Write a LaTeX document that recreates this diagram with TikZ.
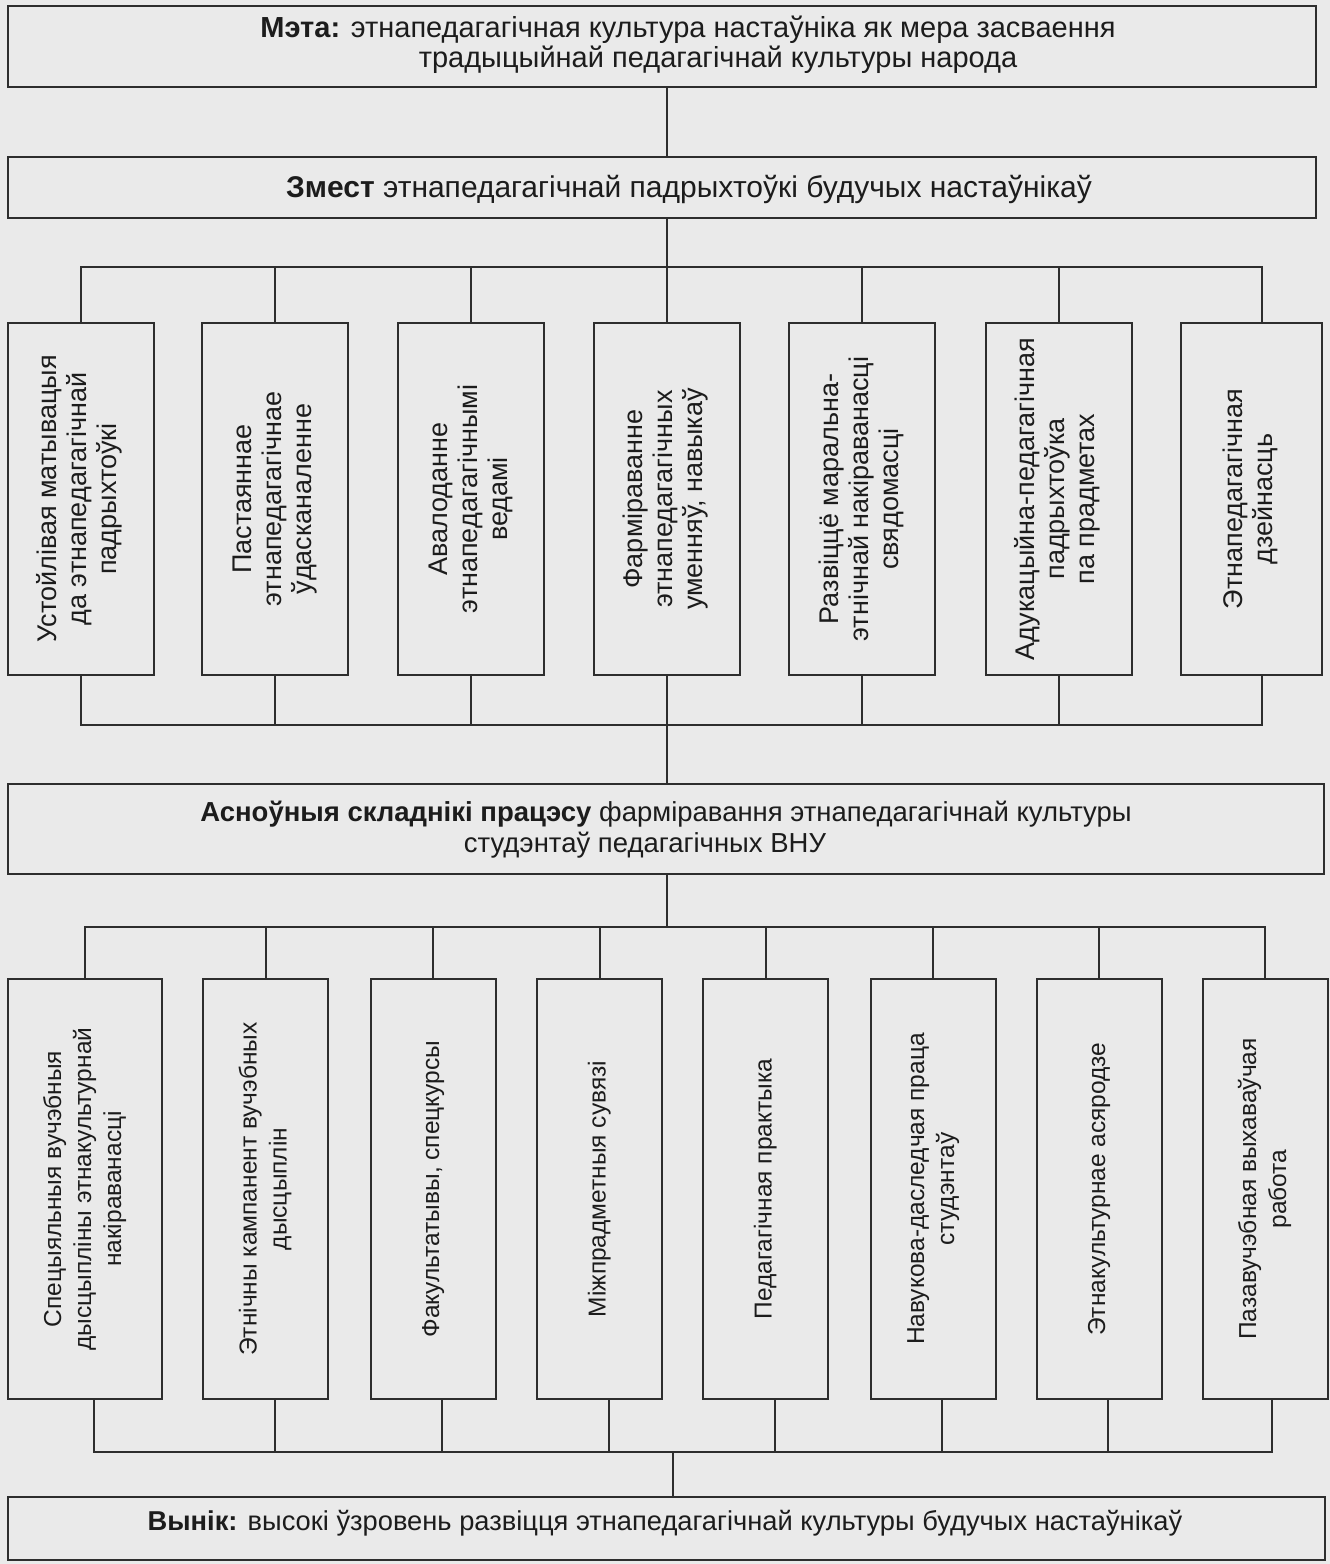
\documentclass[tikz,border=0pt]{standalone}
\usepackage{fontspec}
\setmainfont{Liberation Sans}
\usetikzlibrary{calc}
\definecolor{bgc}{HTML}{EAEAEA}
\definecolor{lnc}{HTML}{2E2E2E}
\definecolor{txc}{HTML}{1C1C1C}
\newcommand\vtxt[1]{\rotatebox{90}{\begin{tabular}{@{}c@{}}#1\end{tabular}}}
\tikzset{
  boxbase/.style={draw=lnc, line width=2pt, inner sep=0pt},
  ubox/.style={boxbase, minimum width=146pt, minimum height=352pt, font=\fontsize{27}{30}\selectfont},
  lbox/.style={boxbase, minimum width=125pt, minimum height=420pt, font=\fontsize{24.5}{30}\selectfont},
  htext/.style={align=center, inner sep=0pt},
  conn/.style={draw=lnc, line width=2pt}
}
\begin{document}
\begin{tikzpicture}[x=1pt,y=-1pt,text=txc]
\fill[bgc] (0,0) rectangle (1330,1564);
\useasboundingbox (0,0) rectangle (1330,1564);

% top boxes
\node[boxbase, minimum width=1308pt, minimum height=81pt] (meta) at (662,46.5) {};
\node[htext, font=\fontsize{29}{30}\selectfont] (metaT) at (688,45) {\textbf{Мэта:} этнапедагагічная культура настаўніка як мера засваення\\\hspace*{60pt}традыцыйнай педагагічнай культуры народа};
\node[boxbase, minimum width=1308pt, minimum height=61pt] (zmest) at (662,187.5) {};
\node[htext, font=\fontsize{30}{30}\selectfont] (zmestT) at (689,189) {\textbf{Змест} этнапедагагічнай падрыхтоўкі будучых настаўнікаў};

% upper vertical boxes
\node[ubox] (up1) at (80.5,499) {\vtxt{Устойлівая матывацыя\\да этнапедагагічнай\\падрыхтоўкі}};
\node[ubox] (up2) at (275,499) {\vtxt{Пастаяннае\\этнапедагагічнае\\ўдасканаленне}};
\node[ubox] (up3) at (471,499) {\vtxt{Авалоданне\\этнапедагагічнымі\\ведамі}};
\node[ubox] (up4) at (666.5,499) {\vtxt{Фарміраванне\\этнапедагагічных\\уменняў, навыкаў}};
\node[ubox] (up5) at (862,499) {\vtxt{Развіццё маральна-\\этнічнай накіраванасці\\свядомасці}};
\node[ubox] (up6) at (1058.5,499) {\vtxt{Адукацыйна-педагагічная\\падрыхтоўка\\па прадметах}};
\node[ubox, minimum width=141pt] (up7) at (1251.5,499) {\vtxt{Этнапедагагічная\\дзейнасць}};

% main components box
\node[boxbase, minimum width=1316pt, minimum height=90pt] (asn) at (666,829) {};
\node[htext, font=\fontsize{27.5}{31}\selectfont] (asnT) at (666,830) {\textbf{Асноўныя складнікі працэсу} фарміравання этнапедагагічнай культуры\\студэнтаў педагагічных ВНУ\hspace*{42pt}};

% lower vertical boxes
\node[lbox, minimum width=154pt] (lo1) at (85,1189) {\vtxt{Спецыяльныя вучэбныя\\дысцыпліны этнакультурнай\\накіраванасці}};
\node[lbox] (lo2) at (265.5,1189) {\vtxt{Этнічны кампанент вучэбных\\дысцыплін}};
\node[lbox] (lo3) at (433,1189) {\vtxt{Факультатывы, спецкурсы}};
\node[lbox] (lo4) at (599.5,1189) {\vtxt{Міжпрадметныя сувязі}};
\node[lbox] (lo5) at (765.5,1189) {\vtxt{Педагагічная практыка}};
\node[lbox] (lo6) at (933,1189) {\vtxt{Навукова-даследчая праца\\студэнтаў}};
\node[lbox] (lo7) at (1099,1189) {\vtxt{Этнакультурнае асяродзе}};
\node[lbox] (lo8) at (1265,1189) {\vtxt{Пазавучэбная выхаваўчая\\работа}};

% result box
\node[boxbase, minimum width=1317pt, minimum height=63pt] (vynik) at (666.5,1528.5) {};
\node[htext, font=\fontsize{27.3}{30}\selectfont] (vynikT) at (665,1523) {\textbf{Вынік:} высокі ўзровень развіцця этнапедагагічнай культуры будучых настаўнікаў};

% bus levels
\coordinate (busA) at (0,267);
\coordinate (busB) at (0,725);
\coordinate (busC) at (0,927);
\coordinate (busD) at (0,1452);
\coordinate (vx) at (673,0);
\coordinate (u7t) at ([xshift=10pt]up7.north);
\coordinate (u7b) at ([xshift=10pt]up7.south);

% connectors
\draw[conn] (meta.south -| up4) -- (zmest.north -| up4);
\draw[conn] (zmest.south -| up4) -- (up4.north);
\draw[conn] (up1.north) -- (up1.north |- busA) -- (u7t |- busA) -- (u7t);
\foreach \n in {up2,up3,up5,up6} \draw[conn] (\n.north) -- (\n.north |- busA);
\draw[conn] (up1.south) -- (up1.south |- busB) -- (u7b |- busB) -- (u7b);
\foreach \n in {up2,up3,up5,up6} \draw[conn] (\n.south) -- (\n.south |- busB);
\draw[conn] (up4.south) -- (asn.north -| up4);
\draw[conn] (asn.south -| up4) -- (busC -| up4);
\draw[conn] (lo1.north) -- (lo1.north |- busC) -- (lo8.north |- busC) -- (lo8.north);
\foreach \n in {lo2,lo3,lo4,lo5,lo6,lo7} \draw[conn] (\n.north) -- (\n.north |- busC);
\draw[conn] ([xshift=9pt]lo1.south) -- ([xshift=9pt]lo1.south |- busD) -- ([xshift=7pt]lo8.south |- busD) -- ([xshift=7pt]lo8.south);
\foreach \n in {lo2,lo3,lo4,lo5,lo6,lo7} \draw[conn] ([xshift=9pt]\n.south) -- ([xshift=9pt]\n.south |- busD);
\draw[conn] (busD -| vx) -- (vynik.north -| vx);
\end{tikzpicture}
\end{document}
